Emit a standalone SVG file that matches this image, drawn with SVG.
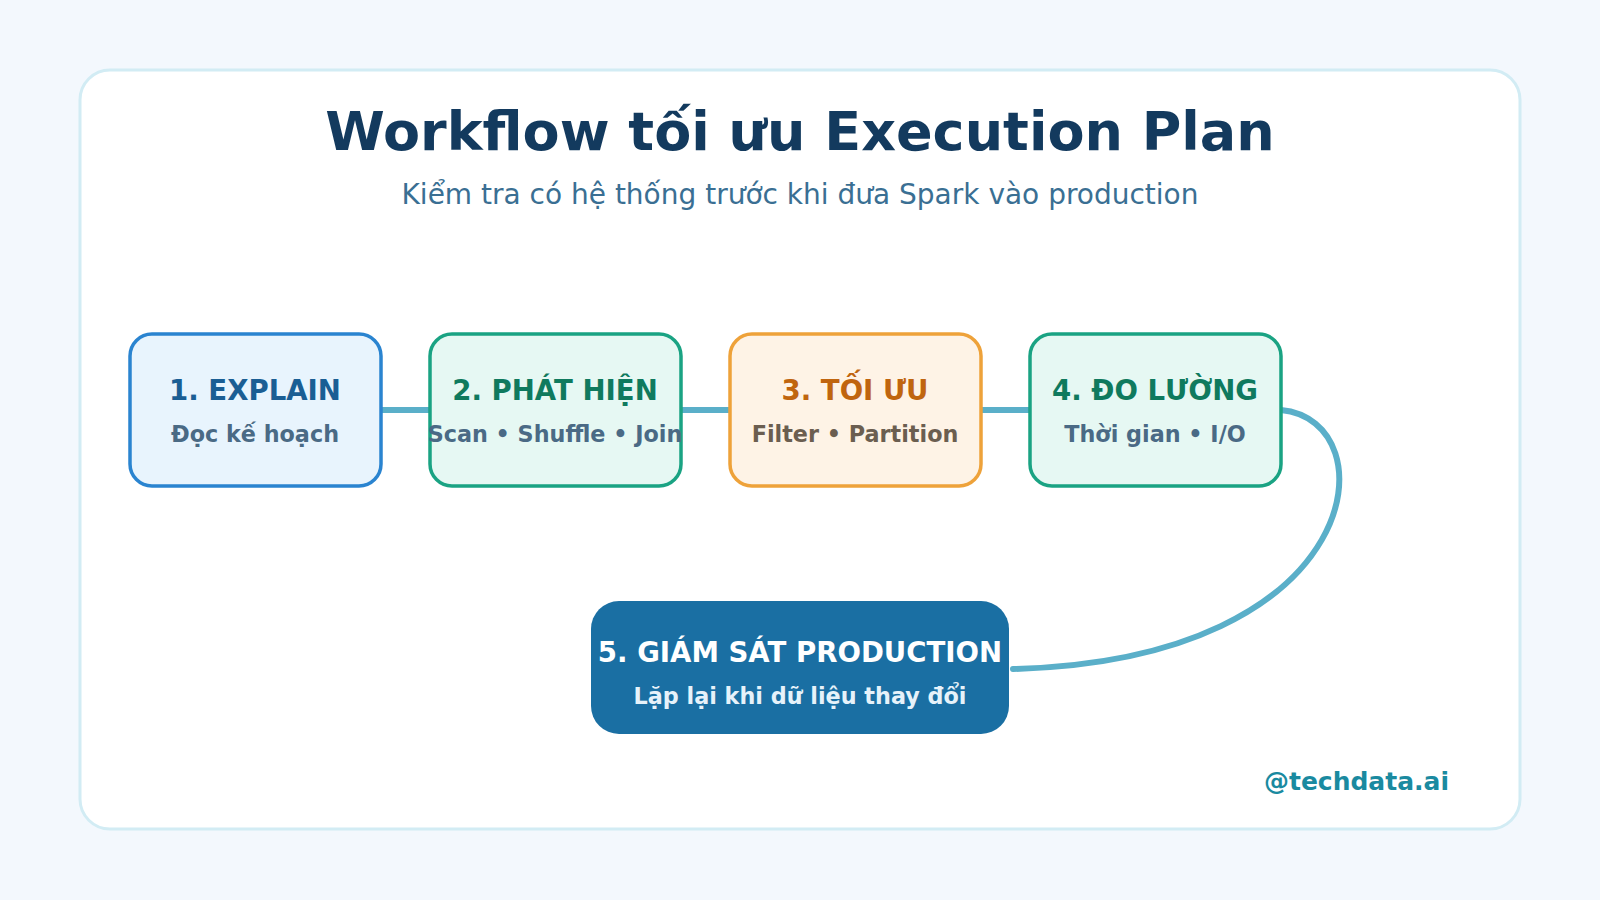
<svg xmlns="http://www.w3.org/2000/svg" width="1600" height="900" viewBox="0 0 1600 900">
<style>
text{font-family:"DejaVu Sans","Noto Sans",sans-serif;text-anchor:middle}
.t{font-size:27.6px;font-weight:bold}
.s{font-size:22.3px;font-weight:bold;fill:#4a6a85}
.n{stroke-width:3.5}
.c{stroke:#5aafc9;stroke-width:6;fill:none;stroke-linecap:round}
</style>
<rect width="1600" height="900" fill="#f3f8fd"/>
<rect x="80" y="70" width="1440" height="759" rx="30" fill="#fff" stroke="#d2ecf4" stroke-width="3"/>
<text x="800" y="150" font-size="54" font-weight="bold" fill="#133a5e">Workflow tối ưu Execution Plan</text>
<text x="800" y="204" font-size="28" fill="#3a6f93">Kiểm tra có hệ thống trước khi đưa Spark vào production</text>
<g id="connectors">
<line class="c" x1="381" y1="410" x2="430" y2="410"/>
<line class="c" x1="681" y1="410" x2="730" y2="410"/>
<line class="c" x1="981" y1="410" x2="1030" y2="410"/>
<path class="c" d="M1281 410 C1390 420 1370 660 1013 669"/>
</g>
<g id="n1"><rect class="n" x="130" y="334" width="251" height="152" rx="22" fill="#e8f4fd" stroke="#2a84d0"/>
<text class="t" x="255" y="400" fill="#1a5e94">1. EXPLAIN</text><text class="s" x="255" y="442">Đọc kế hoạch</text></g>
<g id="n2"><rect class="n" x="430" y="334" width="251" height="152" rx="22" fill="#e6f8f3" stroke="#1aa383"/>
<text class="t" x="555" y="400" fill="#0f7a5e">2. PHÁT HIỆN</text><text class="s" x="555" y="442">Scan • Shuffle • Join</text></g>
<g id="n3"><rect class="n" x="730" y="334" width="251" height="152" rx="22" fill="#fef3e6" stroke="#eea23a"/>
<text class="t" x="855" y="400" fill="#c0650f">3. TỐI ƯU</text><text class="s" x="855" y="442" style="fill:#6b5e50">Filter • Partition</text></g>
<g id="n4"><rect class="n" x="1030" y="334" width="251" height="152" rx="22" fill="#e6f8f3" stroke="#1aa383"/>
<text class="t" x="1155" y="400" fill="#0f7a5e">4. ĐO LƯỜNG</text><text class="s" x="1155" y="442">Thời gian • I/O</text></g>
<g id="n5"><rect x="591" y="601" width="418" height="133" rx="28" fill="#1a6fa3"/>
<text class="t" x="800" y="662" fill="#fff">5. GIÁM SÁT PRODUCTION</text><text class="s" x="800" y="704" style="fill:#e6f2fa">Lặp lại khi dữ liệu thay đổi</text></g>
<text x="1449" y="790" font-size="25" font-weight="bold" fill="#1a8aa0" style="text-anchor:end">@techdata.ai</text>
</svg>
